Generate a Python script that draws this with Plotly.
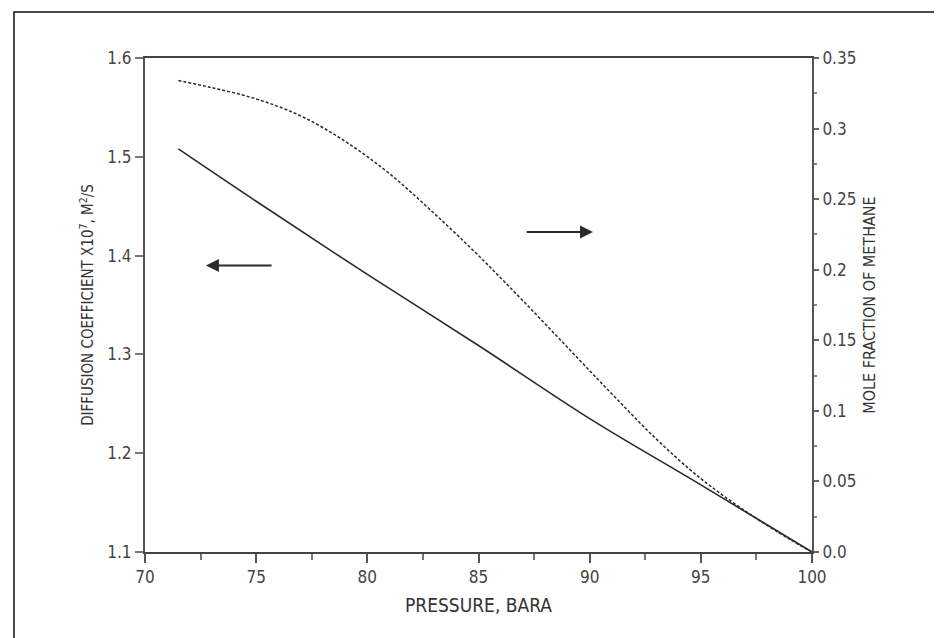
import plotly.graph_objects as go

# ---- data ----
pressure_diff = [71.5, 75, 80, 85, 90, 95, 100]
diffusion_coef = [1.508, 1.455, 1.381, 1.309, 1.235, 1.168, 1.100]

pressure_frac = [71.5, 73, 75, 77, 79, 81, 83, 85, 87, 89, 91, 93, 95, 97, 99, 100]
mole_fraction = [0.334, 0.329, 0.321, 0.309, 0.291, 0.268, 0.240, 0.210, 0.178, 0.145, 0.112, 0.080, 0.052, 0.029, 0.009, 0.0]

x_ticks = [70, 75, 80, 85, 90, 95, 100]
x_ticklabels = ["70", "75", "80", "85", "90", "95", "100"]
left_ticks = [1.1, 1.2, 1.3, 1.4, 1.5, 1.6]
left_ticklabels = ["1.1", "1.2", "1.3", "1.4", "1.5", "1.6"]
right_ticks = [0.0, 0.05, 0.1, 0.15, 0.2, 0.25, 0.3, 0.35]
right_ticklabels = ["0.0", "0.05", "0.1", "0.15", "0.2", "0.25", "0.3", "0.35"]

# arrow annotations (data coords): tail -> head
left_arrow = dict(tail=(75.76, 1.39), head=(72.74, 1.39))
right_arrow = dict(tail=(87.1, 1.424), head=(90.15, 1.424))

FONT = "Liberation Sans Narrow, DejaVu Sans Condensed, Liberation Sans, Arial"
INK = "#2a2a2a"
TXT = "#444444"

fig = go.Figure()
fig.add_trace(go.Scatter(x=pressure_diff, y=diffusion_coef, mode="lines",
                         line=dict(color=INK, width=1.6, shape="spline"),
                         showlegend=False, yaxis="y"))
fig.add_trace(go.Scatter(x=pressure_frac, y=mole_fraction, mode="lines",
                         line=dict(color=INK, width=1.5, dash="3px,2px", shape="spline"),
                         showlegend=False, yaxis="y2"))

for a in (left_arrow, right_arrow):
    fig.add_annotation(x=a["head"][0], y=a["head"][1], ax=a["tail"][0], ay=a["tail"][1],
                       xref="x", yref="y", axref="x", ayref="y", text="",
                       showarrow=True, arrowhead=2, arrowsize=1.3, arrowwidth=2,
                       arrowcolor=INK)

fig.update_layout(
    width=942, height=638,
    margin=dict(l=137, r=138, t=50, b=94),
    paper_bgcolor="white", plot_bgcolor="white",
    font=dict(family=FONT, size=17, color=TXT),
    xaxis=dict(range=[70, 100], tickvals=x_ticks, ticktext=x_ticklabels,
               showgrid=False, zeroline=False, showline=True, mirror=True,
               linecolor="#444", linewidth=2, ticks="outside", ticklen=9,
               tickcolor="#555", tickwidth=1.5,
               tickfont=dict(size=17),
               minor=dict(dtick=2.5, tick0=70, ticks="outside", ticklen=6, tickcolor="#777"),
               title=dict(text="PRESSURE, BARA", standoff=12, font=dict(size=19, color="#333"))),
    yaxis=dict(range=[1.1, 1.6], tickvals=left_ticks, ticktext=left_ticklabels,
               showgrid=False, zeroline=False, showline=True,
               linecolor="#555", linewidth=2, ticks="outside", ticklen=8,
               tickcolor="#777", tickwidth=1.5,
               tickfont=dict(size=17),
               title=dict(text="DIFFUSION COEFFICIENT X10<sup>7</sup>, M<sup>2</sup>/S",
                          standoff=10, font=dict(size=15, color="#333"))),
    yaxis2=dict(range=[0, 0.35], tickvals=right_ticks, ticktext=right_ticklabels,
                overlaying="y", side="right",
                showgrid=False, zeroline=False, showline=True,
                linecolor="#555", linewidth=2, ticks="outside", ticklen=5,
                tickcolor="#666", tickwidth=1.5,
                tickfont=dict(size=17),
                minor=dict(dtick=0.025, tick0=0, ticks="outside", ticklen=3, tickcolor="#888"),
                title=dict(text="MOLE FRACTION OF METHANE", standoff=8,
                           font=dict(size=16, color="#333"))),
)

# outer frame around the whole picture
fig.add_shape(type="rect", xref="paper", yref="paper",
              x0=-0.1964, x1=1.1994, y0=-0.184, y1=1.093,
              line=dict(color="#111", width=1.5), fillcolor="rgba(0,0,0,0)", layer="below")

fig.write_html("out.html")
